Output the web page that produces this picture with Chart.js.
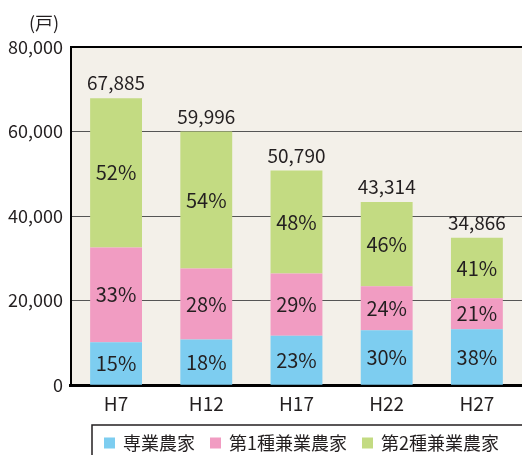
<!DOCTYPE html>
<html>
<head>
<meta charset="utf-8">
<script src="https://cdn.jsdelivr.net/npm/chart.js@4/dist/chart.umd.min.js"></script>
<style>
html, body { margin: 0; padding: 0; background: #fff; }
#wrap { width: 522px; height: 455px; }
</style>
</head>
<body>
<div id="wrap"><canvas id="g_nouka"></canvas></div>
<script>
// データ（戸数）
const nendo = ['H7', 'H12', 'H17', 'H22', 'H27'];
const goukei = [67885, 59996, 50790, 43314, 34866];
const sengyou = [10183, 10799, 11682, 12994, 13249];
const kengyou1 = [22402, 16799, 14729, 10395, 7322];
const kengyou2 = [35300, 32398, 24379, 19925, 14295];
// 割合ラベル
const wariai0 = ['15%', '18%', '23%', '30%', '38%'];
const wariai1 = ['33%', '28%', '29%', '24%', '21%'];
const wariai2 = ['52%', '54%', '48%', '46%', '41%'];
const yTicks = [0, 20000, 40000, 60000, 80000];

const FONT = '"Noto Sans CJK JP", "Noto Sans", sans-serif';
const TXT = '#231f20';

// 背景（プロット領域）
const haikei = {
    id: 'haikei',
    beforeDraw(chart) {
        const a = chart.chartArea;
        const ctx = chart.ctx;
        ctx.save();
        ctx.fillStyle = '#f3f0e9';
        ctx.fillRect(a.left, a.top, a.right - a.left, a.bottom - a.top);
        ctx.restore();
    }
};

// 割合と合計のラベル
const labels = {
    id: 'labels',
    afterDatasetsDraw(chart) {
        const ctx = chart.ctx;
        const pcts = [wariai0, wariai1, wariai2];
        ctx.save();
        ctx.fillStyle = TXT;
        ctx.textAlign = 'center';
        ctx.textBaseline = 'middle';
        ctx.font = '20px ' + FONT;
        for (let d = 0; d < 3; d++) {
            const meta = chart.getDatasetMeta(d);
            meta.data.forEach((bar, i) => {
                ctx.fillText(pcts[d][i], bar.x, (bar.y + bar.base) / 2);
            });
        }
        ctx.font = '19px ' + FONT;
        const top = chart.getDatasetMeta(2);
        top.data.forEach((bar, i) => {
            ctx.fillText(goukei[i].toLocaleString('en-US'), bar.x, bar.y - 15);
        });
        ctx.restore();
    }
};

// 単位と凡例（枠つき）
const hanrei = {
    id: 'hanrei',
    afterDraw(chart) {
        const ctx = chart.ctx;
        ctx.save();
        ctx.fillStyle = TXT;
        ctx.font = '18px ' + FONT;
        ctx.textAlign = 'center';
        ctx.textBaseline = 'middle';
        ctx.fillText('(戸)', 44, 23);

        ctx.strokeStyle = '#231f20';
        ctx.lineWidth = 1.5;
        ctx.strokeRect(92, 425, 500, 100);

        ctx.textAlign = 'left';
        let x = 104;
        const y = 443;
        chart.data.datasets.forEach(ds => {
            ctx.fillStyle = ds.backgroundColor;
            ctx.fillRect(x, y - 5.5, 11, 11);
            ctx.fillStyle = TXT;
            ctx.fillText(ds.label, x + 19, y);
            x += 19 + ctx.measureText(ds.label).width + 15;
        });
        ctx.restore();
    }
};

window.addEventListener('load', () => {
    const context = document.getElementById('g_nouka').getContext('2d');
    const conData = {
        labels: nendo,
        datasets: [
            { label: '専業農家', data: sengyou, backgroundColor: '#7dcdf0' },
            { label: '第1種兼業農家', data: kengyou1, backgroundColor: '#f19cc2' },
            { label: '第2種兼業農家', data: kengyou2, backgroundColor: '#c3db82' }
        ]
    };
    const options = {
        responsive: true,
        maintainAspectRatio: false,
        animation: false,
        layout: { padding: { top: 47, right: 0, left: 0, bottom: 33 } },
        datasets: { bar: { categoryPercentage: 1, barPercentage: 0.575 } },
        scales: {
            x: {
                stacked: true,
                grid: { display: false, drawTicks: false },
                border: { color: '#000', width: 3 },
                ticks: { color: TXT, font: { family: FONT, size: 19 }, padding: 7 }
            },
            y: {
                stacked: true,
                min: 0,
                max: 80000,
                afterBuildTicks(axis) { axis.ticks = yTicks.map(v => ({ value: v })); },
                grid: {
                    drawTicks: false,
                    color: ctx => ctx.tick && ctx.tick.value === 80000 ? '#000' : '#555',
                    lineWidth: ctx => ctx.tick && ctx.tick.value === 80000 ? 2 : 1
                },
                border: { color: '#000', width: 2 },
                ticks: {
                    color: TXT,
                    padding: 8,
                    font: { family: FONT, size: 18 },
                    callback: v => v.toLocaleString('en-US')
                }
            }
        },
        plugins: {
            legend: { display: false },
            tooltip: { enabled: false }
        }
    };
    new Chart(context, { type: 'bar', data: conData, options: options, plugins: [haikei, labels, hanrei] });
});
</script>
</body>
</html>
